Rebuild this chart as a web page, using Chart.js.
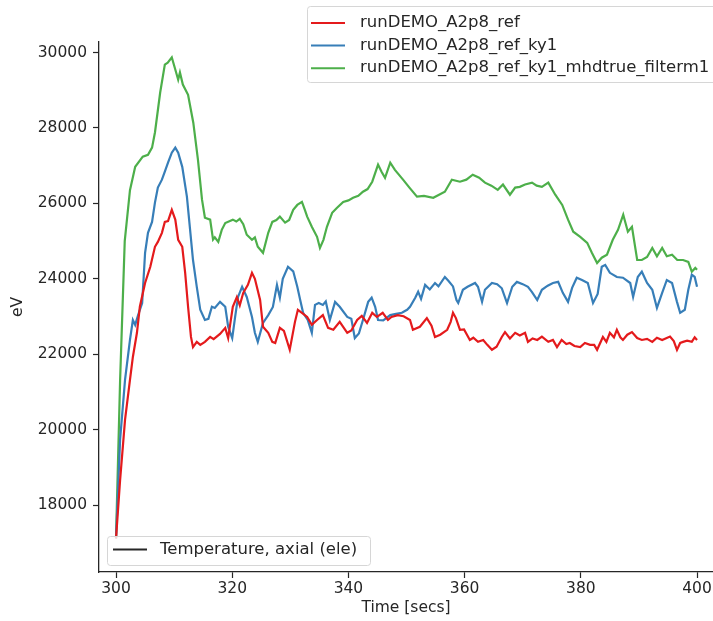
<!DOCTYPE html>
<html>
<head>
<meta charset="utf-8">
<script src="https://cdn.jsdelivr.net/npm/chart.js@4.4.1/dist/chart.umd.min.js"></script>
<style>
  html, body { margin: 0; padding: 0; background: #fff; }
  #wrap { width: 713px; height: 621px; }
</style>
</head>
<body>
<div id="wrap"><canvas id="tempChart" width="713" height="621"></canvas></div>
<script>
// Tick labels
const xTicks = [300, 320, 340, 360, 380, 400];
const yTicks = [18000, 20000, 22000, 24000, 26000, 28000, 30000];

const seriesNames = [
  'runDEMO_A2p8_ref',
  'runDEMO_A2p8_ref_ky1',
  'runDEMO_A2p8_ref_ky1_mhdtrue_filterm1'
];
const seriesColors = ['#e41a1c', '#377eb8', '#4daf4a'];
const extraLegend = 'Temperature, axial (ele)';

// [time (s), eV]
const refData = [
  [300, 17120], [300.7, 18660], [301.55, 20260], [302.4, 21320], [302.9, 21930],
  [303.6, 22570], [304.1, 23260], [305.0, 23890], [305.9, 24320], [306.7, 24850],
  [307.2, 24980], [307.9, 25220], [308.4, 25510], [308.95, 25530], [309.6, 25830],
  [310.2, 25570], [310.7, 25035], [311.4, 24850], [311.9, 24160], [312.4, 23260],
  [312.9, 22460], [313.25, 22190], [313.9, 22330], [314.5, 22250], [315.3, 22330],
  [316.2, 22460], [316.8, 22400], [317.9, 22540], [318.8, 22700], [319.3, 22430],
  [320.1, 23260], [320.8, 23520], [321.3, 23300], [321.9, 23630], [322.7, 23840],
  [323.4, 24160], [323.9, 24000], [324.8, 23440], [325.3, 22730], [326.2, 22570],
  [326.9, 22330], [327.4, 22300], [328.2, 22700], [328.9, 22620], [329.9, 22120],
  [330.8, 22860], [331.3, 23180], [332.0, 23100], [332.9, 22990], [333.7, 22780],
  [334.6, 22910], [335.6, 23040], [336.5, 22700], [337.4, 22650], [338.5, 22860],
  [339.8, 22570], [340.5, 22630], [341.5, 22910], [342.3, 23020], [343.2, 22830],
  [344.1, 23100], [344.9, 22990], [345.9, 23100], [346.8, 22910], [347.4, 22990],
  [348.5, 23040], [349.5, 23010], [350.6, 22910], [351.1, 22650], [352.3, 22730],
  [353.5, 22960], [354.3, 22760], [354.9, 22460], [355.8, 22520], [357.0, 22650],
  [357.6, 22860], [358.0, 23100], [358.5, 22960], [359.2, 22650], [359.9, 22660],
  [360.9, 22380], [361.5, 22440], [362.3, 22330], [363.2, 22380], [363.9, 22250],
  [364.7, 22120], [365.5, 22200], [366.4, 22460], [366.95, 22590], [367.8, 22420],
  [368.7, 22570], [369.5, 22500], [370.4, 22570], [370.9, 22330], [371.7, 22420],
  [372.5, 22380], [373.3, 22470], [374.4, 22330], [375.2, 22380], [375.9, 22190],
  [376.7, 22380], [377.5, 22270], [378.1, 22300], [378.9, 22220], [379.9, 22190],
  [380.7, 22300], [381.6, 22250], [382.3, 22250], [382.8, 22120], [383.8, 22460],
  [384.4, 22330], [385.0, 22570], [385.7, 22450], [386.2, 22650], [386.8, 22450],
  [387.25, 22380], [388.0, 22520], [388.8, 22590], [389.7, 22430], [390.5, 22380],
  [391.4, 22410], [392.3, 22330], [393.1, 22440], [394.0, 22380], [395.35, 22470],
  [396.0, 22350], [396.55, 22115], [397.1, 22300], [397.6, 22330], [398.3, 22360],
  [399.1, 22330], [399.6, 22450], [400.0, 22380]
];

const ky1Data = [
  [300, 17120], [300.7, 19730], [301.55, 21320], [302.4, 22380], [302.9, 22910],
  [303.3, 22780], [303.8, 23040], [304.5, 23360], [305.0, 24690], [305.5, 25220],
  [306.2, 25510], [306.7, 26020], [307.2, 26420], [307.9, 26630], [308.4, 26840],
  [308.95, 27080], [309.6, 27345], [310.2, 27480], [310.7, 27345], [311.4, 26970],
  [312.2, 26180], [312.7, 25380], [313.25, 24500], [313.9, 23790], [314.5, 23180],
  [315.3, 22910], [315.9, 22940], [316.5, 23260], [317.0, 23230], [317.9, 23390],
  [318.8, 23260], [319.3, 22730], [320.0, 22430], [320.5, 22990], [321.0, 23520],
  [321.7, 23790], [322.5, 23520], [323.4, 22990], [323.9, 22570], [324.4, 22330],
  [325.3, 22830], [326.2, 23040], [327.0, 23256], [327.7, 23840], [328.2, 23500],
  [328.7, 24000], [329.6, 24320], [330.5, 24200], [331.2, 23790], [331.7, 23440],
  [332.2, 23100], [333.0, 22910], [333.7, 22570], [334.25, 23310], [334.9, 23360],
  [335.6, 23310], [336.1, 23400], [336.8, 22910], [337.7, 23390], [338.5, 23260],
  [339.8, 22990], [340.5, 22940], [341.1, 22430], [341.8, 22550], [342.5, 22910],
  [343.4, 23390], [344.0, 23500], [344.6, 23260], [345.1, 22910], [346.0, 22900],
  [347.2, 23040], [348.2, 23070], [349.2, 23100], [350.1, 23180], [350.6, 23260],
  [351.5, 23500], [352.0, 23660], [352.5, 23470], [353.2, 23840], [354.0, 23720],
  [354.9, 23890], [355.5, 23800], [356.6, 24050], [357.2, 23950], [358.0, 23800],
  [358.6, 23440], [358.9, 23360], [359.7, 23710], [360.5, 23790], [361.8, 23890],
  [362.3, 23790], [363.0, 23390], [363.5, 23710], [364.7, 23890], [365.6, 23860],
  [366.4, 23750], [367.3, 23360], [368.2, 23790], [369.0, 23920], [370.0, 23860],
  [370.9, 23790], [371.6, 23650], [372.5, 23440], [373.3, 23710], [374.3, 23820],
  [375.2, 23890], [376.1, 23920], [376.9, 23630], [377.8, 23390], [378.5, 23760],
  [379.3, 24030], [380.2, 23970], [381.2, 23890], [382.1, 23360], [382.9, 23600],
  [383.6, 24320], [384.2, 24370], [385.0, 24160], [386.2, 24050], [387.25, 24030],
  [388.5, 23890], [389.0, 23520], [389.8, 24050], [390.5, 24190], [391.4, 23890],
  [392.3, 23710], [393.1, 23230], [394.0, 23630], [394.8, 23970], [395.7, 23890],
  [396.55, 23390], [397.1, 23100], [397.9, 23180], [398.5, 23710], [399.1, 24110],
  [399.6, 24050], [400.0, 23790]
];

const mhdData = [
  [300, 17120], [300.7, 21300], [301.5, 25000], [302.4, 26350], [303.3, 26970],
  [304.6, 27240], [305.5, 27290], [306.2, 27480], [306.7, 27880], [307.6, 28940],
  [308.4, 29680], [308.9, 29730], [309.6, 29870], [310.2, 29550], [310.7, 29280],
  [311.0, 29470], [311.5, 29150], [312.4, 28880], [313.3, 28140], [314.1, 27160],
  [314.8, 26100], [315.3, 25620], [316.2, 25570], [316.7, 25040], [317.0, 25100],
  [317.6, 24980], [318.2, 25300], [318.8, 25480], [320.1, 25570], [320.7, 25520],
  [321.3, 25590], [321.9, 25450], [322.5, 25170], [323.4, 25035], [323.9, 25100],
  [324.4, 24850], [325.3, 24690], [326.2, 25220], [326.9, 25510], [327.6, 25560],
  [328.2, 25650], [329.1, 25490], [329.8, 25560], [330.5, 25830], [331.2, 25960],
  [332.0, 26040], [332.5, 25830], [332.9, 25650], [333.7, 25380], [334.6, 25115],
  [335.1, 24820], [335.7, 25035], [336.3, 25380], [337.2, 25750], [338.0, 25880],
  [339.1, 26040], [340.0, 26080], [340.8, 26150], [341.7, 26200], [342.5, 26310],
  [343.3, 26380], [344.1, 26575], [345.1, 27030], [345.7, 26840], [346.3, 26680],
  [347.2, 27080], [348.0, 26890], [349.4, 26630], [350.5, 26420], [351.8, 26180],
  [353.0, 26200], [354.6, 26150], [355.6, 26230], [356.6, 26310], [357.8, 26630],
  [359.2, 26575], [360.3, 26630], [361.4, 26760], [362.5, 26680], [363.5, 26550],
  [364.6, 26470], [365.7, 26360], [366.6, 26500], [367.8, 26230], [368.7, 26420],
  [369.5, 26440], [370.4, 26500], [371.6, 26550], [372.4, 26470], [373.3, 26440],
  [374.4, 26550], [375.6, 26230], [376.8, 25960], [377.8, 25570], [378.7, 25250],
  [379.9, 25115], [381.1, 24955], [381.9, 24690], [382.8, 24420], [383.6, 24560],
  [384.5, 24640], [385.5, 25035], [386.4, 25300], [387.3, 25700], [388.1, 25250],
  [388.8, 25380], [389.7, 24500], [390.5, 24500], [391.4, 24580], [392.3, 24820],
  [393.1, 24600], [394.0, 24820], [394.8, 24600], [395.7, 24640], [396.6, 24500],
  [397.6, 24500], [398.5, 24450], [399.1, 24190], [399.7, 24290], [400.0, 24240]
];

const seriesData = [refData, ky1Data, mhdData];

const fontFamily = '"DejaVu Sans", sans-serif';
const fontSize = 15.5;
const legendFontSize = 16.5;
const textColor = '#262626';

// Draws the two boxed legends on top of the lines
function drawLegendBox(ctx, x, y, w, h) {
  ctx.beginPath();
  ctx.roundRect(x, y, w, h, 3);
  ctx.fillStyle = 'rgba(255,255,255,0.8)';
  ctx.fill();
  ctx.strokeStyle = '#d6d6d6';
  ctx.lineWidth = 1;
  ctx.stroke();
}

const legendBoxes = {
  id: 'legendBoxes',
  afterDraw(chart) {
    const ctx = chart.ctx;
    ctx.save();
    ctx.font = legendFontSize + 'px ' + fontFamily;
    ctx.textBaseline = 'middle';

    drawLegendBox(ctx, 307.5, 6.5, 420, 76);
    seriesNames.forEach(function(name, i) {
      const ly = 23 + i * 22.6;
      ctx.strokeStyle = seriesColors[i];
      ctx.lineWidth = 2;
      ctx.beginPath();
      ctx.moveTo(311, ly);
      ctx.lineTo(345, ly);
      ctx.stroke();
      ctx.fillStyle = textColor;
      ctx.fillText(name, 360, ly);
    });

    drawLegendBox(ctx, 107.5, 536.5, 263, 29);
    ctx.strokeStyle = '#262626';
    ctx.lineWidth = 2;
    ctx.beginPath();
    ctx.moveTo(113, 549.5);
    ctx.lineTo(147, 549.5);
    ctx.stroke();
    ctx.fillStyle = textColor;
    ctx.fillText(extraLegend, 160, 549.5);
    ctx.restore();
  }
};

const ctx = document.getElementById('tempChart').getContext('2d');
const tempChart = new Chart(ctx, {
  type: 'line',
  data: {
    datasets: seriesNames.map(function(name, i) {
      return {
        label: name,
        data: seriesData[i].map(function(p) { return { x: p[0], y: p[1] }; }),
        borderColor: seriesColors[i],
        borderWidth: 2.2,
        pointRadius: 0,
        tension: 0,
        fill: false
      };
    })
  },
  options: {
    responsive: false,
    animation: false,
    layout: { padding: { top: 42, right: 0, left: 0, bottom: 0 } },
    plugins: {
      legend: { display: false },
      tooltip: { enabled: false }
    },
    scales: {
      x: {
        type: 'linear',
        min: 297.07,
        max: 402.75,
        afterBuildTicks: function(scale) {
          scale.ticks = xTicks.map(function(v) { return { value: v }; });
        },
        afterFit: function(scale) {
          scale.height = 49;
          scale.paddingLeft = 0;
          scale.paddingRight = 0;
        },
        grid: { drawOnChartArea: false, tickLength: 6, color: '#262626', tickWidth: 1.2 },
        border: { color: '#262626', width: 1.3 },
        ticks: {
          color: textColor,
          font: { family: fontFamily, size: fontSize },
          padding: 2,
          maxRotation: 0,
          callback: function(v) { return String(v); }
        },
        title: {
          display: true,
          text: 'Time [secs]',
          color: textColor,
          font: { family: fontFamily, size: fontSize },
          padding: { top: 0, bottom: 4 }
        }
      },
      y: {
        min: 16229,
        max: 30279,
        afterBuildTicks: function(scale) {
          scale.ticks = yTicks.map(function(v) { return { value: v }; });
        },
        afterFit: function(scale) {
          scale.width = 99;
          scale.paddingTop = 0;
          scale.paddingBottom = 0;
        },
        grid: { drawOnChartArea: false, tickLength: 6, color: '#262626', tickWidth: 1.2 },
        border: { color: '#262626', width: 1.3 },
        ticks: {
          color: textColor,
          font: { family: fontFamily, size: fontSize },
          padding: 6,
          callback: function(v) { return String(v); }
        },
        title: {
          display: true,
          text: 'eV',
          color: textColor,
          font: { family: fontFamily, size: fontSize },
          padding: { top: 9, bottom: 0 }
        }
      }
    }
  },
  plugins: [legendBoxes]
});
</script>
</body>
</html>
